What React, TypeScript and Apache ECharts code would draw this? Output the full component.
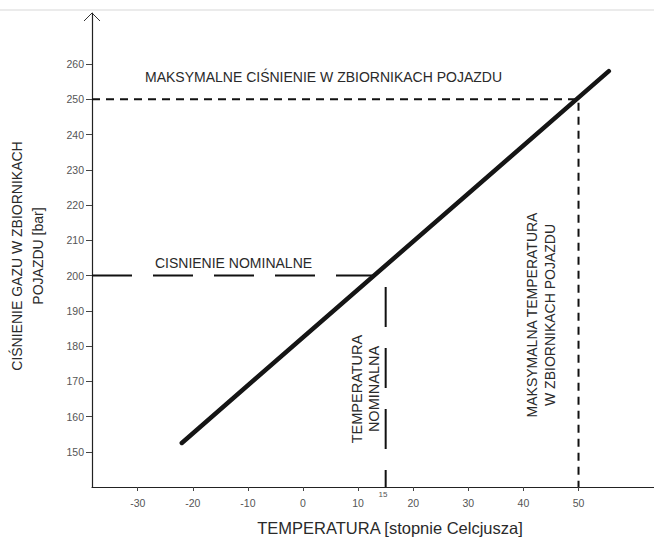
import React, { useEffect, useRef } from "react";
import * as echarts from "echarts";

// Main characteristic: gas pressure vs temperature
const lineTemps = [-22, 55.5];
const linePressures = [152.5, 258];

// Reference levels
const maxPressure = 250;
const maxTemp = 50;
const nominalPressure = 200;
const nominalTemp = 15;

// Axis ticks
const xTicks = [-30, -20, -10, 0, 10, 20, 30, 40, 50];
const yTicks = [150, 160, 170, 180, 190, 200, 210, 220, 230, 240, 250, 260];

const X_MIN = -38.3;
const X_MAX = 63.7;
const Y_MIN = 140;
const Y_MAX = 274.5;

const FONT = "Liberation Sans, Arial, sans-serif";
const TXT = "#2a2a2a";

export default function App() {
  const ref = useRef<HTMLDivElement>(null);

  useEffect(() => {
    document.body.style.margin = "0";
    if (!ref.current) return;
    const chart = echarts.init(ref.current, undefined, { renderer: "svg" });

    const mainData = lineTemps.map((t, i) => [t, linePressures[i]]);
    const maxData = [
      [X_MIN, maxPressure],
      [maxTemp, maxPressure],
      [maxTemp, Y_MIN],
    ];
    const nomData = [
      [X_MIN, nominalPressure],
      [nominalTemp, nominalPressure],
      [nominalTemp, Y_MIN],
    ];

    chart.setOption({
      animation: false,
      backgroundColor: "#ffffff",
      textStyle: { fontFamily: FONT },
      grid: { left: 92, right: 0, top: 13, bottom: 57 },
      xAxis: {
        type: "value",
        min: X_MIN,
        max: X_MAX,
        splitLine: { show: false },
        axisLine: { show: true, onZero: false, lineStyle: { color: "#222", width: 1.2 } },
        axisTick: {
          show: true,
          customValues: xTicks,
          length: 4,
          lineStyle: { color: "#444" },
        },
        axisLabel: {
          customValues: xTicks,
          fontSize: 10.5,
          color: "#555",
          margin: 10,
          fontFamily: FONT,
        },
      },
      yAxis: {
        type: "value",
        min: Y_MIN,
        max: Y_MAX,
        splitLine: { show: false },
        axisLine: { show: true, onZero: false, lineStyle: { color: "#222", width: 1.2 } },
        axisTick: {
          show: true,
          customValues: yTicks,
          length: 6,
          lineStyle: { color: "#444" },
        },
        axisLabel: {
          customValues: yTicks,
          fontSize: 10.5,
          color: "#555",
          margin: 8,
          fontFamily: FONT,
        },
      },
      series: [
        {
          type: "line",
          data: maxData,
          symbol: "none",
          z: 2,
          lineStyle: { color: "#111", width: 2, type: [8, 6] },
        },
        {
          type: "line",
          data: nomData,
          symbol: "none",
          z: 2,
          lineStyle: { color: "#111", width: 2, type: [40, 21] },
        },
        {
          type: "line",
          data: mainData,
          symbol: "none",
          z: 3,
          lineStyle: { color: "#151515", width: 4.5, cap: "round" },
        },
      ],
      graphic: [
        {
          type: "line",
          shape: { x1: 0, y1: 10, x2: 654, y2: 10 },
          style: { stroke: "#e4e4e4", lineWidth: 1.5 },
          silent: true,
        },
        {
          type: "polyline",
          shape: { points: [[84, 21], [92, 13], [100, 21]] },
          style: { stroke: "#333", lineWidth: 1, fill: "none" },
          silent: true,
        },
        {
          type: "text",
          x: 145,
          y: 76.5,
          style: {
            text: "MAKSYMALNE CIŚNIENIE W ZBIORNIKACH POJAZDU",
            fontSize: 14,
            fontFamily: FONT,
            fill: TXT,
            verticalAlign: "middle",
            textAlign: "left",
          },
        },
        {
          type: "text",
          x: 233.5,
          y: 263,
          style: {
            text: "CISNIENIE NOMINALNE",
            fontSize: 14,
            fontFamily: FONT,
            fill: TXT,
            verticalAlign: "middle",
            textAlign: "center",
          },
        },
        {
          type: "text",
          x: 365,
          y: 389,
          rotation: Math.PI / 2,
          style: {
            text: "TEMPERATURA\nNOMINALNA",
            fontSize: 14.5,
            lineHeight: 17,
            fontFamily: FONT,
            fill: TXT,
            verticalAlign: "middle",
            textAlign: "center",
          },
        },
        {
          type: "text",
          x: 541,
          y: 315,
          rotation: Math.PI / 2,
          style: {
            text: "MAKSYMALNA TEMPERATURA\nW ZBIORNIKACH POJAZDU",
            fontSize: 14,
            lineHeight: 18,
            fontFamily: FONT,
            fill: TXT,
            verticalAlign: "middle",
            textAlign: "center",
          },
        },
        {
          type: "text",
          x: 27,
          y: 256,
          rotation: Math.PI / 2,
          style: {
            text: "CIŚNIENIE GAZU W ZBIORNIKACH\nPOJAZDU [bar]",
            fontSize: 14,
            lineHeight: 21,
            fontFamily: FONT,
            fill: TXT,
            verticalAlign: "middle",
            textAlign: "center",
          },
        },
        {
          type: "text",
          x: 390,
          y: 528,
          style: {
            text: "TEMPERATURA [stopnie Celcjusza]",
            fontSize: 16.5,
            fontFamily: FONT,
            fill: TXT,
            verticalAlign: "middle",
            textAlign: "center",
          },
        },
        {
          type: "text",
          x: 383,
          y: 494,
          style: {
            text: String(nominalTemp),
            fontSize: 8,
            fontFamily: FONT,
            fill: "#555",
            verticalAlign: "middle",
            textAlign: "center",
          },
        },
      ],
    });

    return () => chart.dispose();
  }, []);

  return <div ref={ref} style={{ width: 654, height: 544 }} />;
}
